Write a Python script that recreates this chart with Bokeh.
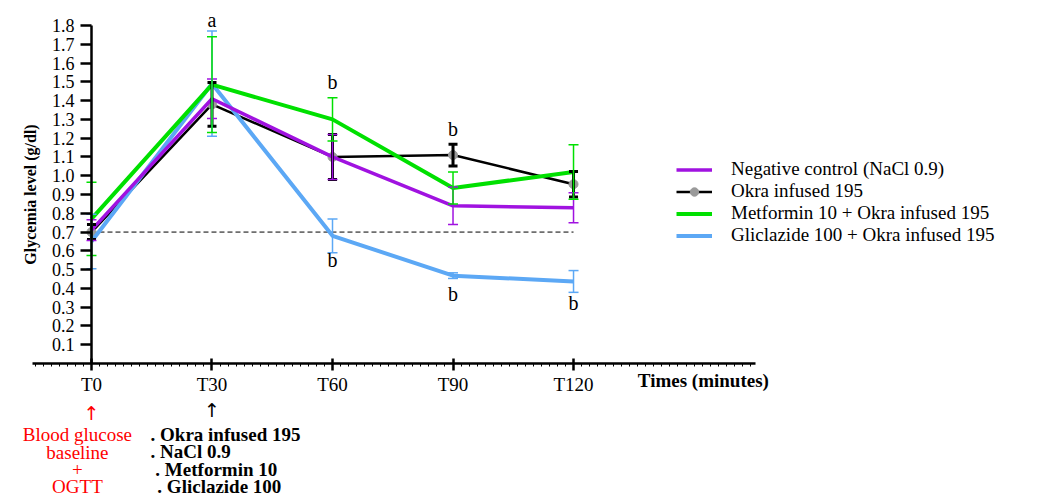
from bokeh.plotting import figure
from bokeh.models import (ColumnDataSource, Whisker, TeeHead, FixedTicker, Legend,
                          LegendItem, Label, LabelSet, Range1d, PrintfTickFormatter)
from bokeh.embed import file_html
from bokeh.resources import INLINE

# ---------------- data ----------------
times = [0, 30, 60, 90, 120]
tick_labels = ["T0", "T30", "T60", "T90", "T120"]
y_ticks = [0.1, 0.2, 0.3, 0.4, 0.5, 0.6, 0.7, 0.8, 0.9, 1.0,
           1.1, 1.2, 1.3, 1.4, 1.5, 1.6, 1.7, 1.8]

neg_control = [0.71, 1.41, 1.10, 0.84, 0.83]
neg_control_err = [0.055, 0.105, 0.12, 0.10, 0.08]
okra = [0.70, 1.38, 1.10, 1.11, 0.955]
okra_err = [0.04, 0.117, 0.12, 0.058, 0.068]
metformin = [0.77, 1.485, 1.30, 0.935, 1.02]
metformin_err = [0.195, 0.255, 0.115, 0.085, 0.145]
gliclazide = [0.65, 1.49, 0.68, 0.468, 0.437]
gliclazide_err = [0.145, 0.28, 0.09, 0.015, 0.058]
threshold = 0.7

letters = ["a", "b", "b", "b", "b", "b"]
letters_x = [30, 60, 90, 60, 90, 120]
letters_y = [1.83, 1.50, 1.25, 0.55, 0.37, 0.32]

series_names = ["Negative control (NaCl 0.9)", "Okra infused 195",
                "Metformin 10 + Okra infused 195", "Gliclazide 100 + Okra infused 195"]

PURPLE = "#A012E0"
BLACK = "#000000"
GREEN = "#00E000"
BLUE = "#5CA8F5"
SERIF = "Liberation Serif"

# frame covers the whole page; axes are drawn at fixed locations with bounds
p = figure(width=1039, height=496, x_range=Range1d(-22.65, 236.0), y_range=Range1d(-0.708, 1.933),
           output_backend="svg", toolbar_location=None,
           min_border_left=0, min_border_right=0, min_border_top=0, min_border_bottom=0)
p.outline_line_color = None
p.grid.visible = False
p.background_fill_color = "white"

# ---- axes ----
xa = p.xaxis[0]
xa.fixed_location = 0
xa.bounds = (-14.7, 165.3)
xa.ticker = FixedTicker(ticks=times, minor_ticks=list(range(-14, 166, 2)))
xa.major_label_overrides = {t: l for t, l in zip(times, tick_labels)}
xa.axis_line_width = 2.5
xa.major_tick_line_width = 2.5
xa.major_tick_in = 5
xa.major_tick_out = 7
xa.minor_tick_in = 0
xa.minor_tick_out = 3
xa.minor_tick_line_width = 1
xa.major_label_text_font = SERIF
xa.major_label_text_font_size = "19px"
xa.major_label_text_color = "black"
xa.major_label_standoff = 3

ya = p.yaxis[0]
ya.fixed_location = 0
ya.bounds = (0, 1.8)
ya.ticker = FixedTicker(ticks=y_ticks, minor_ticks=[])
ya.formatter = PrintfTickFormatter(format="%.1f")
ya.axis_line_width = 2.5
ya.major_tick_line_width = 2.5
ya.major_tick_in = 0
ya.major_tick_out = 11
ya.minor_tick_out = 0
ya.major_label_text_font = SERIF
ya.major_label_text_font_size = "18px"
ya.major_label_text_color = "black"
ya.major_label_standoff = 6
ya.axis_label = "Glycemia level (g/dl)"
ya.axis_label_text_font = SERIF
ya.axis_label_text_font_size = "16px"
ya.axis_label_text_font_style = "bold"
ya.axis_label_text_color = "black"
ya.axis_label_standoff = 10

# ---- threshold line ----
p.segment(x0=times[0], x1=times[-1], y0=threshold, y1=threshold,
          line_color="black", line_width=1, line_dash="5 3")

# ---- series ----
def add_errors(vals, errs, color, width, head):
    src = ColumnDataSource(dict(x=times, up=[v + e for v, e in zip(vals, errs)],
                                lo=[v - e for v, e in zip(vals, errs)]))
    w = Whisker(base="x", upper="up", lower="lo", source=src,
                line_color=color, line_width=width, level="glyph",
                upper_head=TeeHead(size=head, line_color=color, line_width=width),
                lower_head=TeeHead(size=head, line_color=color, line_width=width))
    p.add_layout(w)

add_errors(okra, okra_err, BLACK, 3, 9)
add_errors(neg_control, neg_control_err, PURPLE, 1.5, 10)
add_errors(gliclazide, gliclazide_err, BLUE, 1.5, 10)
add_errors(metformin, metformin_err, GREEN, 1.5, 10)

r_okra = p.line(times, okra, line_color=BLACK, line_width=2.5)
r_okra_pts = p.scatter(times, okra, size=9, fill_color="#9a9a9a", line_color="#9a9a9a")
r_gli = p.line(times, gliclazide, line_color=BLUE, line_width=4)
r_neg = p.line(times, neg_control, line_color=PURPLE, line_width=3.5)
r_met = p.line(times, metformin, line_color=GREEN, line_width=4)

# ---- significance letters ----
lsrc = ColumnDataSource(dict(x=letters_x, y=letters_y, t=letters))
p.add_layout(LabelSet(x="x", y="y", text="t", source=lsrc, text_font=SERIF,
                      text_font_size="20px", text_align="center", text_baseline="middle",
                      text_color="black"))

# ---- legend ----
legend = Legend(items=[
    LegendItem(label=series_names[0], renderers=[r_neg]),
    LegendItem(label=series_names[1], renderers=[r_okra, r_okra_pts]),
    LegendItem(label=series_names[2], renderers=[r_met]),
    LegendItem(label=series_names[3], renderers=[r_gli]),
], location=(676, 250), padding=0, margin=0, spacing=0, border_line_color=None,
    background_fill_alpha=0, glyph_width=36, glyph_height=21, label_height=21,
    label_standoff=19, label_text_font=SERIF, label_text_font_size="19px",
    label_text_color="black")
p.add_layout(legend)

# ---- annotations below the axis ----
p.add_layout(Label(x=136, y=-0.09, text="Times (minutes)", text_font=SERIF,
                   text_font_size="19px", text_font_style="bold", text_baseline="middle",
                   text_align="left", text_color="black"))

p.add_layout(Label(x=times[0], y=-0.262, text="\u2191", text_font="DejaVu Sans",
                   text_font_size="19px", text_align="center", text_baseline="middle",
                   text_color="red"))
p.add_layout(Label(x=times[1], y=-0.25, text="\u2191", text_font="DejaVu Sans",
                   text_font_size="19px", text_align="center", text_baseline="middle",
                   text_color="black"))

red_lines = ["Blood glucose", "baseline", "+", "OGTT"]
red_y = [-0.378, -0.474, -0.565, -0.655]
for t, yy in zip(red_lines, red_y):
    p.add_layout(Label(x=-3.5, y=yy, text=t, text_font=SERIF, text_font_size="19px",
                       text_align="center", text_baseline="middle", text_color="red"))

black_lines = [". Okra infused 195", ". NaCl 0.9", ". Metformin 10", ". Gliclazide 100"]
black_x = [14.7, 14.7, 15.9, 16.4]
black_y = [-0.378, -0.469, -0.565, -0.655]
for t, xx, yy in zip(black_lines, black_x, black_y):
    p.add_layout(Label(x=xx, y=yy, text=t, text_font=SERIF, text_font_size="19px",
                       text_font_style="bold", text_align="left", text_baseline="middle",
                       text_color="black"))

open("out.html", "w").write(file_html(p, INLINE))
